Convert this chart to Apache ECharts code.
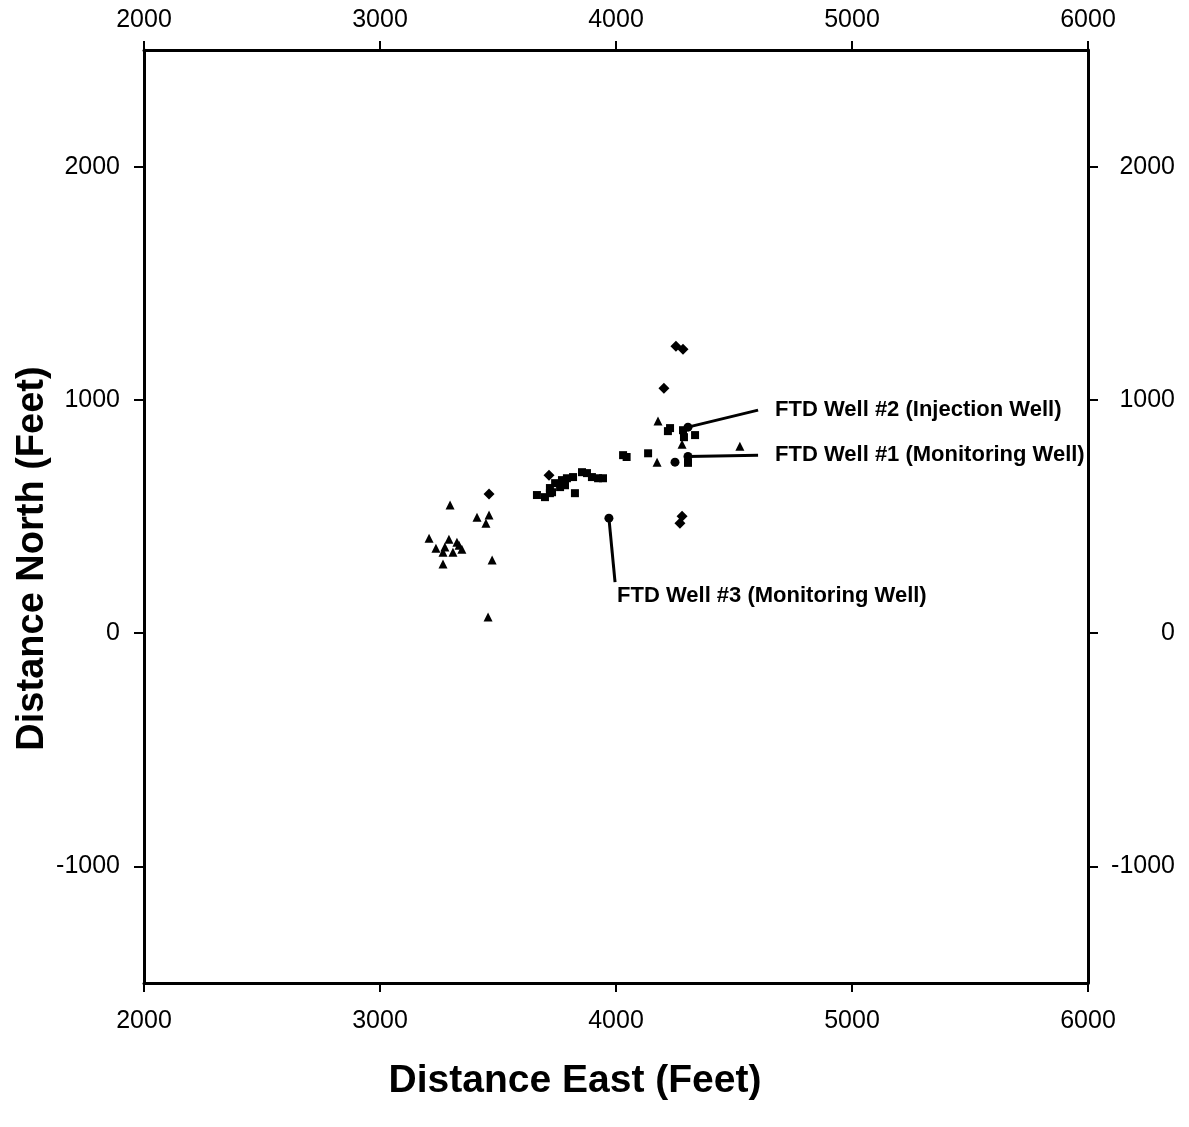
<!DOCTYPE html>
<html>
<head>
<meta charset="utf-8">
<script src="https://cdn.jsdelivr.net/npm/echarts@6/dist/echarts.min.js"></script>
<style>
  html, body { margin: 0; padding: 0; background: #fff; }
  #chart { width: 1189px; height: 1127px; }
</style>
</head>
<body>
<div id="chart"></div>
<script>
// Event locations, feet east / north, grouped by marker shape
const triangles = [
  [3297, 549], [3411, 497], [3462, 506], [3449, 471], [3208, 407],
  [3292, 403], [3237, 364], [3275, 369], [3326, 390], [3267, 347],
  [3309, 347], [3347, 360], [3335, 377], [3267, 296], [3475, 313],
  [3458, 69], [4178, 909], [4174, 733], [4525, 801], [4280, 810]
];
const diamonds = [
  [3462, 596], [3716, 677], [4203, 1050], [4254, 1230], [4284, 1217],
  [4280, 501], [4271, 471]
];
const squares = [
  [3742, 643], [3771, 656], [3792, 664], [3818, 669], [3856, 690],
  [3877, 686], [3898, 669], [3924, 664], [3720, 622], [3729, 604],
  [3763, 626], [3784, 634], [3665, 592], [3699, 583], [3720, 600],
  [3826, 600], [3945, 664], [4030, 763], [4045, 755], [4136, 771],
  [4229, 879], [4220, 866], [4288, 840], [4335, 849], [4284, 870],
  [4305, 730]
];
const circles = [[4250, 733]];

// Wells and the far end of each label leader
const wellNames = ['FTD Well #2 (Injection Well)', 'FTD Well #1 (Monitoring Well)', 'FTD Well #3 (Monitoring Well)'];
const wellLocations = [[4305, 883], [4305, 757], [3970, 493]];
const leaderEnds = [[4602, 956], [4602, 763], [3996, 219]];

// Axis extents and labelled ticks
const eastRange = [2000, 6000];
const northRange = [-1500, 2500];
const eastTicks = [2000, 3000, 4000, 5000, 6000];
const northTicks = [-1000, 0, 1000, 2000];

const FONT = 'Liberation Sans, Arial, Helvetica, sans-serif';
const INK = '#000';
const plain = v => String(v);

function xAxisDef(position, withName) {
  return {
    type: 'value', position: position,
    min: eastRange[0], max: eastRange[1],
    axisLine: { show: true, onZero: false, lineStyle: { color: INK, width: 3 } },
    axisTick: { show: true, inside: false, length: 9, customValues: eastTicks, lineStyle: { color: INK, width: 2 } },
    axisLabel: {
      show: true, customValues: eastTicks, formatter: plain,
      fontFamily: FONT, fontSize: 25, color: INK,
      margin: position === 'top' ? 17 : 26
    },
    splitLine: { show: false },
    name: withName ? 'Distance East (Feet)' : '',
    nameLocation: 'middle', nameGap: 79, nameMoveOverlap: false,
    nameTextStyle: {
      fontFamily: FONT, fontSize: 39, fontWeight: 'bold', color: INK,
      padding: [0, 82, 0, 0]
    }
  };
}
function yAxisDef(position, withName) {
  const right = position === 'right';
  return {
    type: 'value', position: position,
    min: northRange[0], max: northRange[1],
    axisLine: { show: true, onZero: false, lineStyle: { color: INK, width: 3 } },
    axisTick: { show: true, inside: false, length: 10, customValues: northTicks, lineStyle: { color: INK, width: 2 } },
    axisLabel: {
      show: true, customValues: northTicks, formatter: plain,
      fontFamily: FONT, fontSize: 25, color: INK,
      align: 'right', margin: right ? 87 : 24
    },
    splitLine: { show: false },
    name: withName ? 'Distance North (Feet)' : '',
    nameLocation: 'middle', nameGap: 92, nameRotate: 90, nameMoveOverlap: false,
    nameTextStyle: {
      fontFamily: FONT, fontSize: 38, fontWeight: 'bold', color: INK,
      padding: [0, 84, 0, 0]
    }
  };
}

function markerSeries(name, data, symbol, size) {
  return {
    name: name, type: 'scatter', xAxisIndex: 0, yAxisIndex: 0,
    data: data, symbol: symbol, symbolSize: size,
    itemStyle: { color: INK, opacity: 1 }, silent: true
  };
}

// One short leader per well, from the well to its label
const leaderSeries = wellLocations.map((w, i) => ({
  type: 'line', xAxisIndex: 0, yAxisIndex: 0,
  data: [w, leaderEnds[i]], symbol: 'none', silent: true,
  lineStyle: { color: INK, width: 3, opacity: 1 }
}));

const labelPositions = [[17, 0], [17, 0], [2, 14]];

const option = {
  backgroundColor: '#fff',
  animation: false,
  grid: { left: 144, right: 101, top: 50, bottom: 144, containLabel: false },
  xAxis: [xAxisDef('bottom', true), xAxisDef('top', false)],
  yAxis: [yAxisDef('left', true), yAxisDef('right', false)],
  series: [
    markerSeries('triangles', triangles, 'triangle', 9),
    markerSeries('diamonds', diamonds, 'diamond', 11),
    markerSeries('squares', squares, 'rect', 8),
    markerSeries('circles', circles, 'circle', 9),
    markerSeries('wells', wellLocations, 'circle', 9),
    ...leaderSeries,
    {
      name: 'well labels', type: 'scatter', xAxisIndex: 0, yAxisIndex: 0,
      symbolSize: 0, silent: true,
      itemStyle: { opacity: 1 },
      data: leaderEnds.map((p, i) => ({
        value: p,
        label: {
          show: true, formatter: wellNames[i],
          position: labelPositions[i], align: 'left', verticalAlign: 'middle',
          fontFamily: FONT, fontSize: 22, fontWeight: 'bold', color: INK, opacity: 1
        }
      }))
    }
  ]
};

const chart = echarts.init(document.getElementById('chart'), null, { renderer: 'canvas' });
chart.setOption(option);
</script>
</body>
</html>
